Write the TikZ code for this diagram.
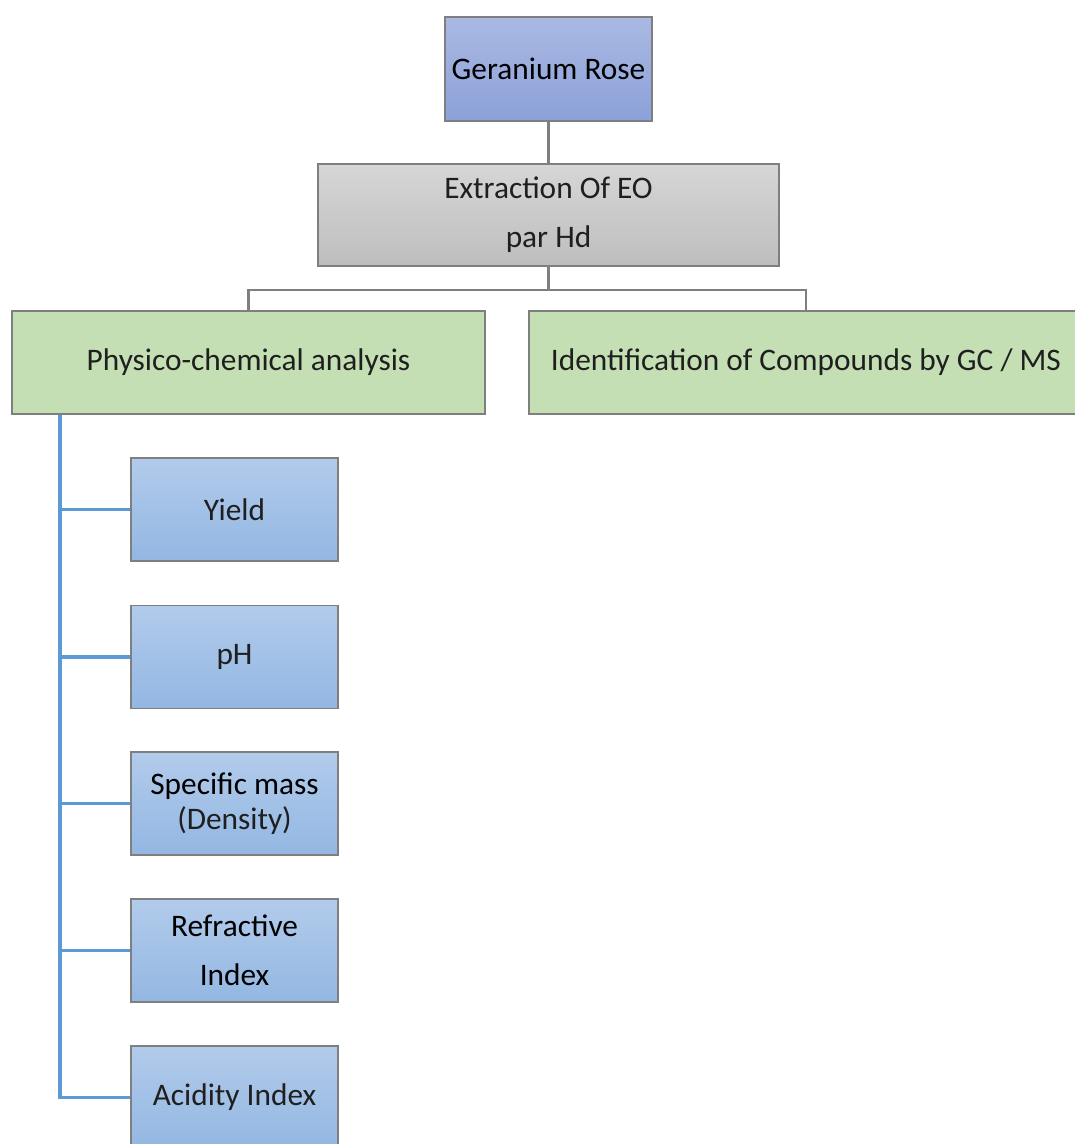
\documentclass[tikz,border=0pt]{standalone}
\usepackage{fontspec}
\setmainfont{Carlito}
\usetikzlibrary{calc}

\definecolor{boxedge}{HTML}{7F7F7F}
\definecolor{linkgray}{HTML}{7F7F7F}
\definecolor{linkblue}{HTML}{5B9BD5}
\definecolor{roseTop}{HTML}{AAB9E3}
\definecolor{roseBot}{HTML}{8CA1D9}
\definecolor{greyTop}{HTML}{D6D6D6}
\definecolor{greyBot}{HTML}{BEBEBE}
\definecolor{leafgreen}{HTML}{C5DFB4}
\definecolor{testTop}{HTML}{B2CBEB}
\definecolor{testBot}{HTML}{93B7E2}

\tikzset{
  box/.style={draw=boxedge, line width=0.9pt, align=center, inner sep=0pt,
    font=\fontsize{23.5}{28}\selectfont, text=black!88},
  rosebox/.style={box, top color=roseTop, bottom color=roseBot, text=black,
    minimum width=155.25pt, minimum height=78pt},
  extractbox/.style={box, top color=greyTop, bottom color=greyBot,
    minimum width=345.75pt, minimum height=76.5pt},
  analysisbox/.style={box, fill=leafgreen, minimum height=77.25pt},
  testbox/.style={box, top color=testTop, bottom color=testBot,
    minimum width=155.25pt, minimum height=77.25pt},
  graylink/.style={draw=linkgray, line width=1.6pt},
  bluelink/.style={draw=linkblue, line width=2.3pt}
}

\begin{document}
\begin{tikzpicture}[x=0.75pt, y=-0.75pt]
  % page frame
  \useasboundingbox (0,0) rectangle (1074,1144);

  % top of the tree
  \node[rosebox] (rose) at (548.5,69) {Geranium Rose};
  \node[extractbox] (ext) at (548.5,215)
    {Extraction Of EO\\[9pt]par Hd};

  % the two branches
  \node[analysisbox, minimum width=354.75pt] (phy) at (248.5,362.5)
    {Physico-chemical analysis};
  \node[analysisbox, minimum width=415.5pt] (gcms) at (806,362.5)
    {Identification of Compounds by GC / MS};

  % the tests
  \node[testbox] (yield) at (234.5,509.5) {Yield};
  \node[testbox] (ph) at (234.5,657) {pH};
  \node[testbox, text=black] (dens) at (234.5,803.5)
    {Specific mass\\[-2pt]{\color{black!88}(Density)}};
  \node[testbox, text=black] (refr) at (234.5,950.5)
    {Refractive\\[9pt]Index};
  \node[testbox] (acid) at (234.5,1097.5) {Acidity Index};

  % gray links
  \draw[graylink] (rose.south) -- (ext.north);
  \draw[graylink] (ext.south) -- ++(0,23) -| (phy.north);
  \draw[graylink] (ext.south) -- ++(0,23) -| (gcms.north);

  % blue links
  \coordinate (trunk) at (phy.south -| 60,0);
  \foreach \t in {yield,ph,dens,refr,acid}
    \draw[bluelink] (trunk) |- (\t.west);

\end{tikzpicture}
\end{document}
